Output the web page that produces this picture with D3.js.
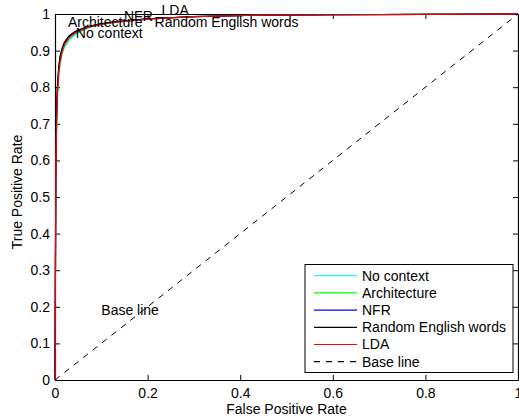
<!DOCTYPE html>
<html lang="en">
<head>
<meta charset="utf-8">
<title>ROC curves</title>
<script src="https://cdn.jsdelivr.net/npm/d3@7"></script>
<style>
  html, body { margin: 0; padding: 0; background: #fff; overflow: hidden; }
  text { font-family: "Liberation Sans", Arial, Helvetica, sans-serif; font-size: 14px; fill: #000; }
</style>
</head>
<body>
<div id="chart"></div>
<script>
// ROC data (shared false positive grid)
var fpr = [0, 0.002, 0.005, 0.008, 0.011, 0.015, 0.02, 0.03, 0.043, 0.06, 0.075, 0.1, 0.133, 0.2, 0.3, 0.45, 0.6, 0.8, 1];
var tprNoContext = [0, 0.58, 0.76, 0.83, 0.862, 0.888, 0.908, 0.928, 0.943, 0.955, 0.963, 0.971, 0.978, 0.986, 0.993, 0.997, 0.998, 0.999, 1];
var tprArchitecture = [0, 0.6, 0.77, 0.835, 0.866, 0.892, 0.912, 0.932, 0.946, 0.957, 0.964, 0.972, 0.978, 0.986, 0.993, 0.997, 0.998, 0.999, 1];
var tprNFR = [0, 0.66, 0.79, 0.85, 0.88, 0.902, 0.92, 0.938, 0.95, 0.96, 0.966, 0.973, 0.979, 0.987, 0.993, 0.997, 0.998, 0.999, 1];
var tprRandom = [0, 0.68, 0.8, 0.855, 0.885, 0.905, 0.922, 0.94, 0.952, 0.961, 0.967, 0.974, 0.979, 0.987, 0.993, 0.997, 0.998, 0.999, 1];
var tprLDA = [0, 0.62, 0.78, 0.84, 0.87, 0.895, 0.915, 0.935, 0.948, 0.958, 0.965, 0.972, 0.978, 0.986, 0.993, 0.997, 0.998, 0.999, 1];
var baseX = [0, 1];
var baseY = [0, 1];

var seriesNames = ["No context", "Architecture", "NFR", "Random English words", "LDA", "Base line"];
var seriesColors = ["#00ffff", "#00ff00", "#0000ff", "#000000", "#ff0000", "#000000"];

// text annotations placed in data coordinates
var noteLabels = ["Architecture", "No context", "NFR", "LDA", "Random English words", "Base line"];
var noteX = [0.028, 0.045, 0.149, 0.23, 0.215, 0.1];
var noteY = [0.979, 0.947, 0.995, 1.011, 0.978, 0.191];

var xTicks = [0, 0.2, 0.4, 0.6, 0.8, 1];
var yTicks = [0, 0.1, 0.2, 0.3, 0.4, 0.5, 0.6, 0.7, 0.8, 0.9, 1];

var w = 519, h = 419;
var padL = 55, padR = 518, padT = 14, padB = 380;

var svg = d3.select("#chart").append("svg")
  .attr("width", w)
  .attr("height", h);

var x = d3.scaleLinear().domain([0, 1]).range([padL, padR]);
var y = d3.scaleLinear().domain([0, 1]).range([padB, padT]);

var tickFmt = function(d) { return String(+d.toFixed(1)); };

// axes, matlab style: ticks pointing inward on all four sides
svg.append("g")
  .attr("transform", "translate(0," + padB + ")")
  .call(d3.axisBottom(x).tickValues(xTicks).tickFormat(tickFmt).tickSizeInner(-5).tickSizeOuter(0).tickPadding(8));
svg.append("g")
  .attr("transform", "translate(0," + padT + ")")
  .call(d3.axisTop(x).tickValues(xTicks).tickFormat("").tickSizeInner(-5).tickSizeOuter(0));
svg.append("g")
  .attr("transform", "translate(" + padL + ",0)")
  .call(d3.axisLeft(y).tickValues(yTicks).tickFormat(tickFmt).tickSizeInner(-5).tickSizeOuter(0).tickPadding(5));
svg.append("g")
  .attr("transform", "translate(" + padR + ",0)")
  .call(d3.axisRight(y).tickValues(yTicks).tickFormat("").tickSizeInner(-5).tickSizeOuter(0));

svg.selectAll(".domain").attr("stroke", "#000").attr("stroke-width", 1.2);
svg.selectAll(".tick line").attr("stroke", "#000");
svg.selectAll(".tick text").style("font-size", "14px").style("font-family", "Liberation Sans, Arial, sans-serif").attr("fill", "#000");

// the curves
var line = d3.line()
  .x(function(d) { return x(d[0]); })
  .y(function(d) { return y(d[1]); });

var curves = [tprNoContext, tprArchitecture, tprNFR, tprRandom, tprLDA];
curves.forEach(function(tpr, i) {
  svg.append("path")
    .datum(fpr.map(function(f, j) { return [f, tpr[j]]; }))
    .attr("d", line)
    .attr("fill", "none")
    .attr("stroke", seriesColors[i])
    .attr("stroke-width", 1.2);
});

svg.append("path")
  .datum(baseX.map(function(f, j) { return [f, baseY[j]]; }))
  .attr("d", line)
  .attr("fill", "none")
  .attr("stroke", "#000")
  .attr("stroke-width", 1)
  .attr("stroke-dasharray", "6,6");

// annotations
svg.selectAll("text.note")
  .data(noteLabels)
  .enter()
  .append("text")
  .attr("class", "note")
  .attr("x", function(d, i) { return x(noteX[i]); })
  .attr("y", function(d, i) { return y(noteY[i]); })
  .attr("dy", "0.35em")
  .text(function(d) { return d; });

// legend
var lg = svg.append("g");
lg.append("rect")
  .attr("x", 305).attr("y", 264.5)
  .attr("width", 208).attr("height", 108)
  .attr("fill", "#fff").attr("stroke", "#000").attr("stroke-width", 1);

seriesNames.forEach(function(name, i) {
  var ry = 275.7 + i * 17.2;
  lg.append("line")
    .attr("x1", 314).attr("x2", 357)
    .attr("y1", ry).attr("y2", ry)
    .attr("stroke", seriesColors[i])
    .attr("stroke-width", 1.2)
    .attr("stroke-dasharray", i == 5 ? "6,6" : null);
  lg.append("text")
    .attr("x", 362).attr("y", ry)
    .attr("dy", "0.35em")
    .text(name);
});

// axis titles
svg.append("text")
  .attr("x", (padL + padR) / 2)
  .attr("y", 414)
  .attr("text-anchor", "middle")
  .text("False Positive Rate");
svg.append("text")
  .attr("transform", "translate(22,192) rotate(-90)")
  .attr("text-anchor", "middle")
  .text("True Positive Rate");
</script>
</body>
</html>
